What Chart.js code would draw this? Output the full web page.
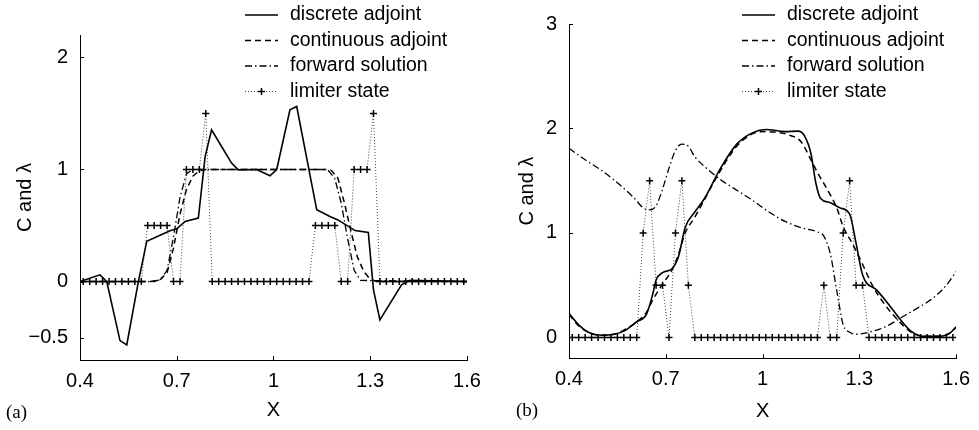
<!DOCTYPE html>
<html>
<head>
<meta charset="utf-8">
<script src="https://cdn.jsdelivr.net/npm/chart.js@4"></script>
<style>
  html, body { margin: 0; padding: 0; background: #fff; }
  #wrap { position: relative; width: 979px; height: 430px; }
  .panel { position: absolute; top: 0; height: 430px; }
  #pa { left: 0; width: 490px; }
  #pb { left: 490px; width: 489px; }
  .tag { position: absolute; font-family: "Liberation Serif", "DejaVu Serif", serif; font-size: 19px; color: #000; }
</style>
</head>
<body>
<div id="wrap">
  <div class="panel" id="pa"><canvas id="ca"></canvas></div>
  <div class="panel" id="pb"><canvas id="cb"></canvas></div>
  <span class="tag" style="left:6px;top:401px">(a)</span>
  <span class="tag" style="left:516px;top:399px">(b)</span>
</div>
<script>
// ---- axis ticks / labels ----
const xTicks = [0.4, 0.7, 1, 1.3, 1.6];
const xTickText = ['0.4', '0.7', '1', '1.3', '1.6'];
const yTicksA = [-0.5, 0, 1, 2];
const yTickTextA = ['\u22120.5', '0', '1', '2'];
const yTicksB = [0, 1, 2, 3];
const yTickTextB = ['0', '1', '2', '3'];
const seriesNames = ['discrete adjoint', 'continuous adjoint', 'forward solution', 'limiter state'];

// ---- limiter state, cell centres ----
const cellX = [0.41, 0.43, 0.45, 0.47, 0.49, 0.51, 0.53, 0.55, 0.57, 0.59,
               0.61, 0.63, 0.65, 0.67, 0.69, 0.71, 0.73, 0.75, 0.77, 0.79,
               0.81, 0.83, 0.85, 0.87, 0.89, 0.91, 0.93, 0.95, 0.97, 0.99,
               1.01, 1.03, 1.05, 1.07, 1.09, 1.11, 1.13, 1.15, 1.17, 1.19,
               1.21, 1.23, 1.25, 1.27, 1.29, 1.31, 1.33, 1.35, 1.37, 1.39,
               1.41, 1.43, 1.45, 1.47, 1.49, 1.51, 1.53, 1.55, 1.57, 1.59];
const limA = [0, 0, 0, 0, 0, 0, 0, 0, 0, 0,
              0.5, 0.5, 0.5, 0.5, 0, 0, 1, 1, 1, 1.5,
              0, 0, 0, 0, 0, 0, 0, 0, 0, 0,
              0, 0, 0, 0, 0, 0, 0.5, 0.5, 0.5, 0.5,
              0, 0, 1, 1, 1, 1.5, 0, 0, 0, 0,
              0, 0, 0, 0, 0, 0, 0, 0, 0, 0];
const limB = [0, 0, 0, 0, 0, 0, 0, 0, 0, 0,
              0, 1, 1.5, 0.5, 0.5, 0, 1, 1.5, 0.5, 0,
              0, 0, 0, 0, 0, 0, 0, 0, 0, 0,
              0, 0, 0, 0, 0, 0, 0, 0, 0, 0.5,
              0, 0, 1, 1.5, 0.5, 0.5, 0, 0, 0, 0,
              0, 0, 0, 0, 0, 0, 0, 0, 0, 0];

// ---- panel (a) ----
const discAx = [0.40, 0.462, 0.483, 0.524, 0.545, 0.581, 0.607, 0.679, 0.70, 0.726, 0.767, 0.788, 0.808, 0.839,
                0.87, 0.891, 0.948, 0.989, 1.01, 1.051, 1.072, 1.134, 1.175, 1.20, 1.222, 1.253, 1.294, 1.31,
                1.33, 1.397, 1.423, 1.6];
const discAy = [0, 0.06, 0, -0.527, -0.565, 0, 0.36, 0.453, 0.47, 0.536, 0.566, 1.115, 1.354, 1.205,
                1.057, 0.997, 1.0, 0.944, 1.0, 1.533, 1.562, 0.64, 0.58, 0.55, 0.51, 0.455, 0.438, -0.074,
                -0.342, -0.03, 0.012, 0];
const contAx = [0.40, 0.62, 0.65, 0.67, 0.69, 0.71, 0.73, 0.75, 0.77, 0.79, 1.17, 1.18, 1.20, 1.22, 1.24, 1.26, 1.28, 1.30, 1.32, 1.6];
const contAy = [0, 0, 0.02, 0.08, 0.3, 0.6, 0.82, 0.94, 0.99, 1, 1, 0.99, 0.92, 0.7, 0.45, 0.22, 0.09, 0.02, 0, 0];
const fwdAx = [0.40, 0.63, 0.65, 0.67, 0.69, 0.71, 0.73, 0.75, 1.16, 1.17, 1.19, 1.21, 1.23, 1.25, 1.27, 1.6];
const fwdAy = [0, 0, 0.02, 0.1, 0.4, 0.75, 0.96, 1, 1, 0.99, 0.92, 0.7, 0.38, 0.1, 0.01, 0];

// ---- panel (b) ----
const discBx = [0.40, 0.43, 0.46, 0.50, 0.54, 0.57, 0.61, 0.64, 0.66, 0.67, 0.69, 0.72, 0.74, 0.76, 0.79, 0.82,
                0.87, 0.92, 0.97, 1.01, 1.07, 1.11, 1.13, 1.15, 1.165, 1.18, 1.21, 1.24, 1.27, 1.29, 1.31,
                1.355, 1.39, 1.43, 1.46, 1.50, 1.55, 1.58, 1.60];
const discBy = [0.23, 0.12, 0.05, 0.02, 0.03, 0.06, 0.15, 0.22, 0.42, 0.55, 0.62, 0.66, 0.78, 1.05, 1.2, 1.33,
                1.62, 1.85, 1.96, 1.99, 1.97, 1.975, 1.93, 1.76, 1.48, 1.33, 1.29, 1.24, 1.18, 0.9, 0.6,
                0.45, 0.32, 0.16, 0.06, 0.01, 0.01, 0.04, 0.1];
const contBx = [0.40, 0.43, 0.46, 0.50, 0.54, 0.57, 0.61, 0.64, 0.66, 0.69, 0.72, 0.74, 0.76, 0.79, 0.82, 0.87,
                0.92, 0.97, 1.01, 1.05, 1.08, 1.12, 1.15, 1.17, 1.20, 1.23, 1.25, 1.28, 1.31, 1.34, 1.38,
                1.42, 1.46, 1.50, 1.55, 1.58, 1.60];
const contBy = [0.22, 0.11, 0.05, 0.02, 0.03, 0.07, 0.15, 0.24, 0.36, 0.51, 0.65, 0.8, 1.0, 1.15, 1.32, 1.6,
                1.83, 1.95, 1.97, 1.96, 1.94, 1.87, 1.7, 1.58, 1.42, 1.24, 1.06, 0.89, 0.7, 0.5, 0.31,
                0.165, 0.05, 0.01, 0.01, 0.04, 0.1];
const fwdBx = [0.40, 0.45, 0.50, 0.55, 0.60, 0.63, 0.65, 0.67, 0.69, 0.71, 0.73, 0.75, 0.77, 0.79, 0.83, 0.87,
               0.93, 0.97, 1.02, 1.07, 1.12, 1.17, 1.19, 1.21, 1.23, 1.25, 1.27, 1.29, 1.33, 1.38, 1.43,
               1.48, 1.53, 1.57, 1.60];
const fwdBy = [1.81, 1.70, 1.60, 1.48, 1.34, 1.24, 1.22, 1.26, 1.42, 1.62, 1.79, 1.85, 1.83, 1.73, 1.61, 1.51,
               1.39, 1.31, 1.20, 1.11, 1.05, 1.01, 0.97, 0.80, 0.45, 0.12, 0.05, 0.03, 0.05, 0.1, 0.19,
               0.28, 0.38, 0.50, 0.63];

const FONT = '"Liberation Sans", Arial, Helvetica, sans-serif';
const pts = (xs, ys) => xs.map((x, i) => ({ x, y: ys[i] }));

// inward tick marks like the matlab original
const inTicks = {
  id: 'inTicks',
  afterDraw(chart) {
    const { ctx, chartArea: a, scales: { x, y } } = chart;
    ctx.save();
    ctx.strokeStyle = '#000'; ctx.lineWidth = 1;
    ctx.beginPath();
    x.ticks.forEach(t => {
      const px = Math.round(x.getPixelForValue(t.value)) + 0.5;
      ctx.moveTo(px, a.bottom); ctx.lineTo(px, a.bottom - 4);
    });
    y.ticks.forEach(t => {
      const py = Math.round(y.getPixelForValue(t.value)) + 0.5;
      ctx.moveTo(a.left, py); ctx.lineTo(a.left + 4, py);
    });
    ctx.stroke();
    ctx.restore();
  }
};

// boxless legend with line samples
const lineLegend = {
  id: 'lineLegend',
  afterDraw(chart, args, o) {
    const { ctx } = chart;
    ctx.save();
    ctx.font = o.font;
    ctx.textBaseline = 'middle';
    chart.data.datasets.forEach((ds, i) => {
      const y = o.y + i * o.rowH;
      ctx.beginPath();
      ctx.setLineDash(ds.borderDash || []);
      ctx.lineWidth = ds.borderWidth;
      ctx.strokeStyle = ds.borderColor;
      ctx.moveTo(o.x, y); ctx.lineTo(o.x + o.len, y);
      ctx.stroke();
      ctx.setLineDash([]);
      if (ds.pointRadius) {
        const cx = o.x + o.len / 2, r = ds.pointRadius;
        ctx.beginPath();
        ctx.strokeStyle = ds.pointBorderColor; ctx.lineWidth = ds.pointBorderWidth;
        ctx.moveTo(cx - r, y); ctx.lineTo(cx + r, y);
        ctx.moveTo(cx, y - r); ctx.lineTo(cx, y + r);
        ctx.stroke();
      }
      ctx.fillStyle = '#000';
      ctx.fillText(ds.label, o.x + o.len + o.gap, y);
    });
    ctx.restore();
  }
};

function makeChart(id, s, cfg) {
  const smooth = cfg.smooth ? 'monotone' : 'default';
  return new Chart(document.getElementById(id), {
    type: 'line',
    data: {
      datasets: [
        { label: seriesNames[0], data: pts(s.dx, s.dy), borderColor: '#000', borderWidth: 1.6, borderDash: [],
          pointRadius: 0, cubicInterpolationMode: smooth },
        { label: seriesNames[1], data: pts(s.cx, s.cy), borderColor: '#000', borderWidth: 1.5, borderDash: [6, 4],
          pointRadius: 0, cubicInterpolationMode: smooth },
        { label: seriesNames[2], data: pts(s.fx, s.fy), borderColor: '#000', borderWidth: 1.3, borderDash: [7, 3, 1.5, 3],
          pointRadius: 0, cubicInterpolationMode: smooth },
        { label: seriesNames[3], data: pts(cellX, s.lim), borderColor: '#444', borderWidth: 1, borderDash: [1, 2],
          pointStyle: 'cross', pointRadius: 3.5, pointBorderColor: '#000', pointBorderWidth: 1.5 }
      ]
    },
    options: {
      responsive: true, maintainAspectRatio: false, animation: false,
      layout: { padding: { top: cfg.top, right: cfg.right, left: 0, bottom: 0 } },
      plugins: {
        legend: { display: false }, tooltip: { enabled: false },
        lineLegend: { x: cfg.legX, y: 15, rowH: 25.5, len: 33, gap: 12, font: '19.5px ' + FONT }
      },
      scales: {
        x: {
          type: 'linear', min: 0.4, max: 1.6,
          afterBuildTicks: sc => { sc.ticks = xTicks.map(v => ({ value: v })); },
          afterFit: sc => { sc.height = cfg.xh; },
          grid: { display: false, drawTicks: false },
          border: { display: true, color: '#000', width: 1 },
          ticks: { color: '#000', font: { family: FONT, size: 20 }, padding: 9, maxRotation: 0, autoSkip: false,
                   callback: (v, i) => xTickText[i] },
          title: { display: true, text: 'X', color: '#000', font: { family: FONT, size: 20 }, padding: { top: 0, bottom: cfg.xtPad } }
        },
        y: {
          min: cfg.ymin, max: cfg.ymax,
          afterBuildTicks: sc => { sc.ticks = cfg.yt.map(v => ({ value: v })); },
          afterFit: sc => { sc.width = cfg.yw; },
          grid: { display: false, drawTicks: false },
          border: { display: true, color: '#000', width: 1 },
          ticks: { color: '#000', font: { family: FONT, size: 20 }, padding: 12, autoSkip: false,
                   callback: (v, i) => cfg.ytText[i] },
          title: { display: true, text: 'C and \u03bb', color: '#000', font: { family: FONT, size: 20 }, padding: { top: cfg.ytPad, bottom: 0 } }
        }
      }
    },
    plugins: [inTicks, lineLegend]
  });
}

makeChart('ca', { dx: discAx, dy: discAy, cx: contAx, cy: contAy, fx: fwdAx, fy: fwdAy, lim: limA },
  { top: 35, right: 23, xh: 70, yw: 80, ymin: -0.7, ymax: 2.2, yt: yTicksA, ytText: yTickTextA,
    legX: 245, xtPad: 8, ytPad: 13.5, smooth: false });
makeChart('cb', { dx: discBx, dy: discBy, cx: contBx, cy: contBy, fx: fwdBx, fy: fwdBy, lim: limB },
  { top: 22, right: 17, xh: 71.7, yw: 79, ymin: -0.2, ymax: 3, yt: yTicksB, ytText: yTickTextB,
    legX: 252, xtPad: 7, ytPad: 25, smooth: true });
</script>
</body>
</html>
